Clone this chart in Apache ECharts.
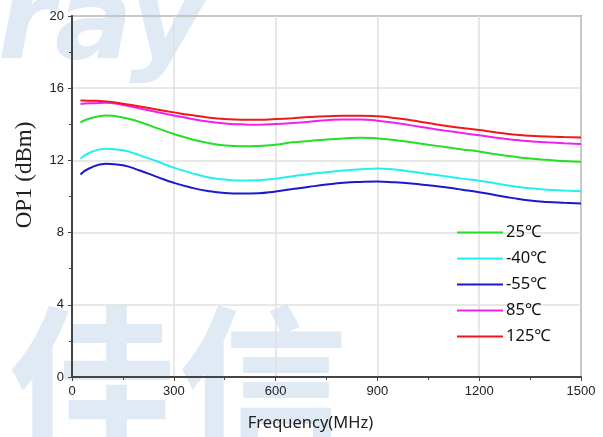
<!DOCTYPE html>
<html>
<head>
<meta charset="utf-8">
<script src="https://cdn.jsdelivr.net/npm/echarts@6/dist/echarts.min.js"></script>
<style>
  html, body { margin: 0; padding: 0; background: #fff; }
  #chart { width: 603px; height: 437px; }
</style>
</head>
<body>
<div id="chart"></div>
<script>
// frequency points (MHz)
var freqs = [25, 50, 100, 150, 200, 250, 300, 350, 400, 450, 500, 550, 600, 650, 700, 750,
  800, 850, 900, 950, 1000, 1050, 1100, 1150, 1200, 1250, 1300, 1350, 1400, 1450, 1500];

// OP1 (dBm) per temperature
var op25 = [14.11, 14.31, 14.49, 14.38, 14.13, 13.79, 13.46, 13.19, 12.97, 12.83, 12.78, 12.80, 12.87, 13.00, 13.08, 13.16,
  13.22, 13.26, 13.22, 13.13, 13.00, 12.87, 12.74, 12.61, 12.49, 12.34, 12.21, 12.10, 12.03, 11.97, 11.93];
var opM40 = [12.10, 12.41, 12.65, 12.56, 12.28, 11.95, 11.60, 11.31, 11.07, 10.94, 10.88, 10.90, 10.99, 11.12, 11.25, 11.35,
  11.44, 11.51, 11.55, 11.49, 11.38, 11.25, 11.12, 10.99, 10.87, 10.72, 10.57, 10.46, 10.38, 10.33, 10.29];
var opM55 = [11.22, 11.55, 11.82, 11.73, 11.44, 11.09, 10.76, 10.50, 10.31, 10.20, 10.17, 10.18, 10.28, 10.41, 10.54, 10.66,
  10.76, 10.81, 10.83, 10.79, 10.72, 10.62, 10.51, 10.38, 10.24, 10.07, 9.91, 9.78, 9.70, 9.65, 9.61];
var op85 = [15.12, 15.16, 15.19, 15.07, 14.88, 14.68, 14.49, 14.31, 14.16, 14.05, 14.00, 13.98, 14.01, 14.07, 14.14, 14.22,
  14.27, 14.27, 14.20, 14.09, 13.94, 13.79, 13.65, 13.52, 13.39, 13.26, 13.15, 13.06, 13.00, 12.95, 12.91];
var op125 = [15.32, 15.31, 15.27, 15.14, 14.99, 14.82, 14.66, 14.51, 14.38, 14.29, 14.25, 14.25, 14.29, 14.34, 14.40, 14.45,
  14.48, 14.48, 14.44, 14.35, 14.22, 14.07, 13.92, 13.79, 13.68, 13.55, 13.44, 13.37, 13.32, 13.29, 13.27];

var names = ['25℃', '-40℃', '-55℃', '85℃', '125℃'];
var colors = ['#22e022', '#22f0f0', '#1a1acc', '#f020f0', '#f01818'];
var values = [op25, opM40, opM55, op85, op125];

function pairs(arr) {
  return freqs.map(function (f, i) { return [f, arr[i]]; });
}

var chart = echarts.init(document.getElementById('chart'));

var series = names.map(function (n, i) {
  return {
    name: n,
    type: 'line',
    smooth: 0.5,
    symbol: 'none',
    data: pairs(values[i]),
    lineStyle: { color: colors[i], width: 2 },
    itemStyle: { color: colors[i] },
    z: 3
  };
});

var watermark = '#dfeaf5';

chart.setOption({
  animation: false,
  graphic: [
    {
      type: 'text', left: -85, top: -30, z: -10, silent: true,
      style: { text: 'nray', fill: watermark, font: 'italic bold 116px "DejaVu Sans"' }
    },
    {
      type: 'text', left: 8, top: 300, z: -10, silent: true,
      style: { text: '佳信', fill: watermark, font: 'bold 170px "Noto Sans CJK SC"' }
    }
  ],
  grid: { left: 72, top: 16, right: 22, bottom: 59, show: true, borderColor: '#555', borderWidth: 1.5 },
  legend: {
    orient: 'vertical',
    left: 452,
    top: 219,
    itemWidth: 46,
    itemHeight: 2,
    itemGap: 9,
    icon: 'rect',
    textStyle: { fontFamily: 'Noto Sans', fontSize: 16.5, color: '#111', padding: [0, 0, 0, -2] },
    data: names
  },
  xAxis: {
    type: 'value',
    min: 0, max: 1500, interval: 300,
    name: 'Frequency(MHz)',
    nameLocation: 'middle',
    nameGap: 38,
    nameTextStyle: { fontFamily: 'Noto Sans', fontSize: 16.5, color: '#222', padding: [0, 32, 0, 0] },
    axisLine: { show: true, lineStyle: { color: '#444', width: 2 } },
    axisTick: { show: true, length: 4, lineStyle: { color: '#444' } },
    minorTick: { show: true, splitNumber: 2, length: 3, lineStyle: { color: '#444' } },
    axisLabel: {
      fontFamily: 'Liberation Sans', fontSize: 13, color: '#222', margin: 8,
      formatter: function (v) { return String(v); }
    },
    splitLine: { show: true, lineStyle: { color: '#e0e0e0', width: 1.5 } }
  },
  yAxis: {
    type: 'value',
    min: 0, max: 20, interval: 4,
    name: 'OP1 (dBm)',
    nameLocation: 'middle',
    nameGap: 36,
    nameTextStyle: { fontFamily: 'Liberation Serif', fontSize: 23, color: '#222', padding: [0, 0, 0, 43] },
    axisLine: { show: true, lineStyle: { color: '#444', width: 2 } },
    axisTick: { show: true, length: 4, lineStyle: { color: '#444' } },
    minorTick: { show: true, splitNumber: 2, length: 3, lineStyle: { color: '#444' } },
    axisLabel: { fontFamily: 'Liberation Sans', fontSize: 13, color: '#222', margin: 8 },
    splitLine: { show: true, lineStyle: { color: '#e0e0e0', width: 1.5 } }
  },
  series: series
});
</script>
</body>
</html>
